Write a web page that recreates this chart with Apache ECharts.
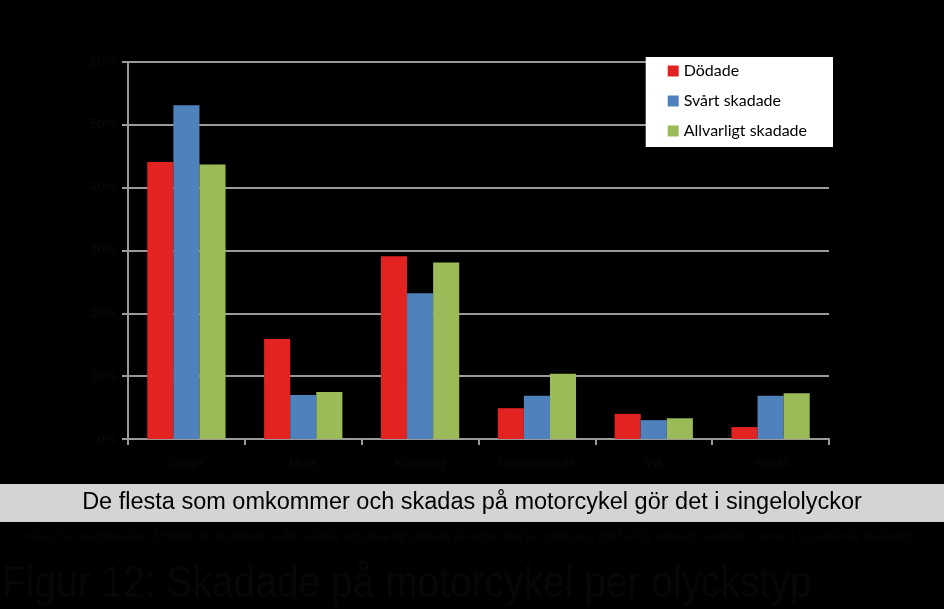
<!DOCTYPE html>
<html>
<head>
<meta charset="utf-8">
<script src="https://cdn.jsdelivr.net/npm/echarts@6/dist/echarts.min.js"></script>
<style>
html,body{margin:0;padding:0;background:#000;}
#c{width:944px;height:609px;}
</style>
</head>
<body>
<div id="c"></div>
<script>
var categories = ['Singel', 'Möte', 'Korsning', 'Upphinnande', 'Vilt', 'Annat'];
var dodade = [44.1, 15.9, 29.1, 4.9, 4.0, 1.9];
var svartSkadade = [53.1, 7.0, 23.2, 6.9, 3.0, 6.9];
var allvarligtSkadade = [43.7, 7.5, 28.1, 10.4, 3.3, 7.3];
var yTicks = ['0%', '10%', '20%', '30%', '40%', '50%', '60%'];
var seriesNames = ['Dödade', 'Svårt skadade', 'Allvarligt skadade'];
var headline = 'De flesta som omkommer och skadas på motorcykel gör det i singelolyckor';
var sourceText = 'Källa: Transportstyrelsen, STRADA. Andel dödade, svårt skadade och allvarligt skadade på motorcykel per olyckstyp, 2007–2011. Allvarligt skadade = minst 1 % medicinsk invaliditet';
var figTitle = 'Figur 12: Skadade på motorcykel per olyckstyp';

var chart = echarts.init(document.getElementById('c'));
var dim = '#0a0a0a';
chart.setOption({
  backgroundColor: '#000',
  animation: false,
  grid: {left: 128, right: 115, top: 62, bottom: 170, containLabel: false},
  legend: {
    data: seriesNames,
    orient: 'vertical',
    right: 111, top: 57,
    backgroundColor: '#fff',
    padding: [6, 26, 8, 22],
    itemGap: 14,
    itemWidth: 11, itemHeight: 11,
    icon: 'rect',
    textStyle: {color: '#000', fontSize: 16, fontFamily: 'Lato'}
  },
  xAxis: {
    type: 'category',
    data: categories,
    axisLine: {lineStyle: {color: '#9a9a9a', width: 2}},
    axisTick: {show: true, length: 6, lineStyle: {color: '#9a9a9a', width: 2}},
    axisLabel: {color: dim, fontSize: 13, margin: 18, fontFamily: 'Liberation Sans'}
  },
  yAxis: {
    type: 'value',
    min: 0, max: 60, interval: 10,
    axisLine: {show: true, lineStyle: {color: '#9a9a9a', width: 2}},
    axisTick: {show: true, length: 6, lineStyle: {color: '#9a9a9a', width: 2}},
    splitLine: {lineStyle: {color: '#9a9a9a', width: 2}},
    axisLabel: {color: dim, fontSize: 13, margin: 12, fontFamily: 'Liberation Sans',
      formatter: function (v) { return yTicks[Math.round(v / 10)]; }}
  },
  series: [
    {name: seriesNames[0], type: 'bar', data: dodade, barGap: '0%', barCategoryGap: '33%', itemStyle: {color: '#e32222'}},
    {name: seriesNames[1], type: 'bar', data: svartSkadade, itemStyle: {color: '#4f81bd'}},
    {name: seriesNames[2], type: 'bar', data: allvarligtSkadade, itemStyle: {color: '#9bbb59'}}
  ],
  graphic: [
    {type: 'rect', shape: {x: 0, y: 484, width: 944, height: 38}, style: {fill: '#d4d4d4'}},
    {type: 'text', x: 472, y: 503, style: {text: headline, fill: '#000', fontSize: 23.5, fontFamily: 'Liberation Sans', align: 'center', verticalAlign: 'middle'}},
    {type: 'text', x: 470, y: 537, style: {text: sourceText, fill: '#080808', fontSize: 10.8, fontFamily: 'DejaVu Sans Condensed', align: 'center', verticalAlign: 'middle'}},
    {type: 'text', x: 2, y: 585, scaleX: 0.885, originX: 0, style: {text: figTitle, fill: '#070707', fontSize: 44, fontFamily: 'Liberation Sans', align: 'left', verticalAlign: 'middle'}}
  ]
});
</script>
</body>
</html>
